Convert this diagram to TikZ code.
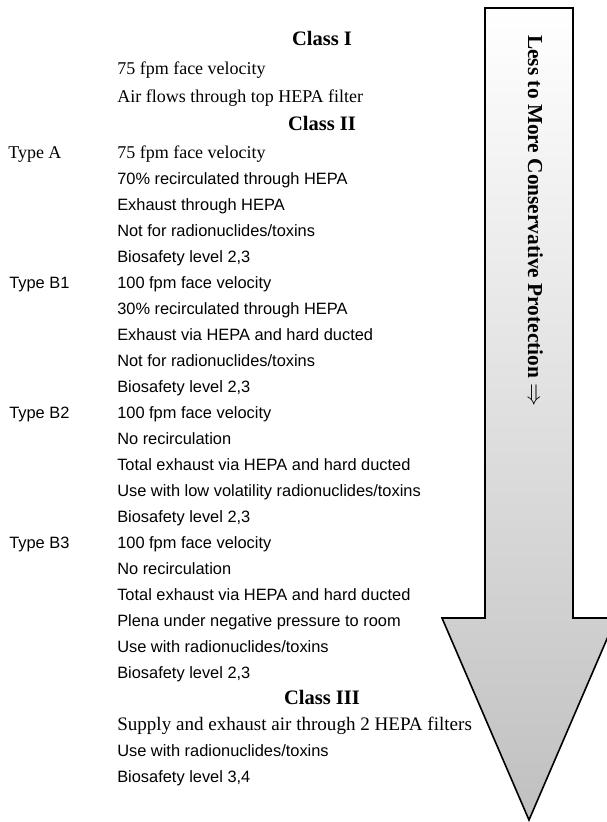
\documentclass[tikz,border=0pt]{standalone}
\usepackage{fontspec}
\setmainfont{Liberation Serif}
\setsansfont{Liberation Sans}
\usepackage{tikz}
\usetikzlibrary{positioning}
\usepackage{xcolor}
\definecolor{shaftgray}{RGB}{192,192,192}

\begin{document}
\begin{tikzpicture}[x=0.75pt, y=-0.75pt,
    every node/.style={inner sep=0pt},
    head/.style={anchor=base, font=\bfseries\fontsize{15.4}{18}\selectfont},
    rmtext/.style={anchor=base west, font=\fontsize{13.5}{16}\selectfont},
    sftext/.style={anchor=base west, font=\sffamily\fontsize{12.3}{15}\selectfont}]
    % page frame
    \useasboundingbox (0,0) rectangle (607,822);
    \def\lh{26}   % line height
    \def\tx{117}  % text column
    \def\hx{322}  % heading centre
    % big down arrow
    \begin{scope}
      \clip (0,0) rectangle (607,822);
      \shade[top color=white, bottom color=shaftgray]
        (485,8) -- (573,8) -- (573,618) -- (616,618) -- (529,820)
        -- (442,618) -- (485,618) -- cycle;
      \draw[line width=1.2pt, line join=miter]
        (485,8) -- (573,8) -- (573,618) -- (616,618) -- (529,820)
        -- (442,618) -- (485,618) -- cycle;
    \end{scope}
    \node[rotate=-90, anchor=base west, font=\bfseries\fontsize{16}{19}\selectfont] (trend)
      at (528,35) {Less to More Conservative Protection $\Rightarrow$};
    % Class I
    \node[head] (c1) at (\hx,45) {Class I};
    \node[rmtext] (c1a) at (\tx,74) {75 fpm face velocity};
    \node[rmtext] (c1b) at (\tx,102) {Air flows through top HEPA filter};
    % Class II
    \node[head] (c2) at (\hx,130) {Class II};
    % type A
    \node[rmtext] (ta) at (8,158) {Type A};
    \node[rmtext] (ta1) at (\tx,158) {75 fpm face velocity};
    \node[sftext] (ta2) at (\tx,158+\lh) {70\% recirculated through HEPA};
    \node[sftext] (ta3) at (\tx,158+2*\lh) {Exhaust through HEPA};
    \node[sftext] (ta4) at (\tx,158+3*\lh) {Not for radionuclides/toxins};
    \node[sftext] (ta5) at (\tx,158+4*\lh) {Biosafety level 2,3};
    % type B1
    \node[sftext] (tb) at (9,288) {Type B1};
    \node[sftext] (tb1) at (\tx,288) {100 fpm face velocity};
    \node[sftext] (tb2) at (\tx,288+\lh) {30\% recirculated through HEPA};
    \node[sftext] (tb3) at (\tx,288+2*\lh) {Exhaust via HEPA and hard ducted};
    \node[sftext] (tb4) at (\tx,288+3*\lh) {Not for radionuclides/toxins};
    \node[sftext] (tb5) at (\tx,288+4*\lh) {Biosafety level 2,3};
    % type B2
    \node[sftext] (tc) at (9,418) {Type B2};
    \node[sftext] (tc1) at (\tx,418) {100 fpm face velocity};
    \node[sftext] (tc2) at (\tx,418+\lh) {No recirculation};
    \node[sftext] (tc3) at (\tx,418+2*\lh) {Total exhaust via HEPA and hard ducted};
    \node[sftext] (tc4) at (\tx,418+3*\lh) {Use with low volatility radionuclides/toxins};
    \node[sftext] (tc5) at (\tx,418+4*\lh) {Biosafety level 2,3};
    % type B3
    \node[sftext] (td) at (9,548) {Type B3};
    \node[sftext] (td1) at (\tx,548) {100 fpm face velocity};
    \node[sftext] (td2) at (\tx,548+\lh) {No recirculation};
    \node[sftext] (td3) at (\tx,548+2*\lh) {Total exhaust via HEPA and hard ducted};
    \node[sftext] (td4) at (\tx,548+3*\lh) {Plena under negative pressure to room};
    \node[sftext] (td5) at (\tx,548+4*\lh) {Use with radionuclides/toxins};
    \node[sftext] (td6) at (\tx,548+5*\lh) {Biosafety level 2,3};
    % Class III
    \node[head] (c3) at (\hx,704) {Class III};
    \node[rmtext, font=\fontsize{14.3}{17}\selectfont] (c3a) at (\tx,730) {Supply and exhaust air through 2 HEPA filters};
    \node[sftext] (c3b) at (\tx,756) {Use with radionuclides/toxins};
    \node[sftext] (c3c) at (\tx,782) {Biosafety level 3,4};
\end{tikzpicture}
\end{document}
